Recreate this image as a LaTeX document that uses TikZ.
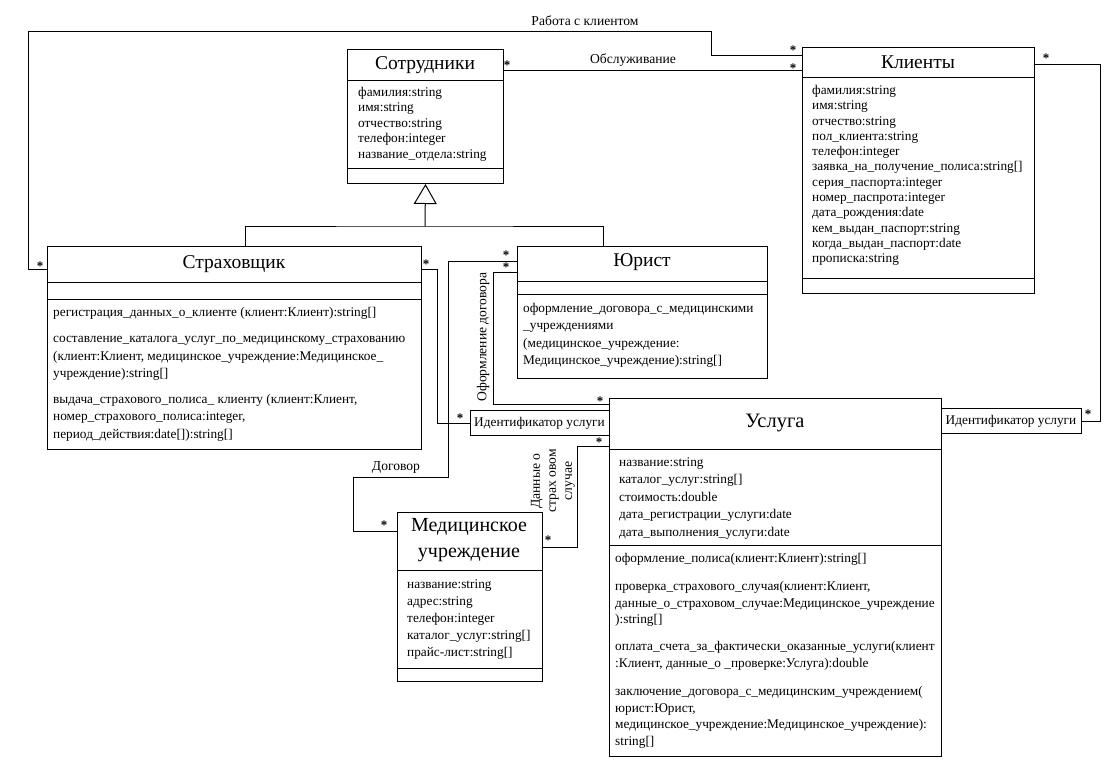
\documentclass[tikz,border=0pt]{standalone}
\usepackage{fontspec}
\setmainfont{Liberation Serif}
\usepackage{tikz}
\usetikzlibrary{arrows.meta, positioning}
\tikzset{
  %% -- class frame --
  uml/cls/.style={draw, line width=1pt, anchor=north west, inner sep=0pt},
  %% -- class name --
  uml/title/.style={font=\fontsize{19.5}{26}\selectfont, align=center, inner sep=0pt},
  %% -- attribute / operation list --
  uml/attr/.style={font=\fontsize{13.3}{15.5}\selectfont, align=left,
    anchor=north west, inner sep=0pt},
  %% -- association line --
  uml/assoc/.style={draw, line width=1pt},
  %% -- generalisation arrow --
  uml/gen/.style={draw, line width=1pt, -{Triangle[open, length=20pt, width=23pt]}},
  %% -- multiplicity star --
  uml/mult/.style={font=\fontsize{13}{13}\selectfont\bfseries, inner sep=0pt, yshift=-3pt},
  %% -- association label --
  uml/lbl/.style={font=\fontsize{13.6}{16}\selectfont, inner sep=0pt, align=center},
  %% -- qualifier box --
  uml/qual/.style={draw, line width=1pt, minimum height=25pt, inner sep=0pt,
    font=\fontsize{13.3}{14}\selectfont},
}

\begin{document}
\begin{tikzpicture}[x=1pt, y=-1pt]
\useasboundingbox (0,0) rectangle (1118,779);

%% Class frames
\node[uml/cls, minimum width=156pt, minimum height=134pt] (sotr)  at (347,49)  {};
\node[uml/cls, minimum width=232pt, minimum height=246pt] (kli)   at (802,47)  {};
\node[uml/cls, minimum width=374pt, minimum height=203pt] (strah) at (47,246)  {};
\node[uml/cls, minimum width=250pt, minimum height=132pt] (yur)   at (517,246) {};
\node[uml/cls, minimum width=332pt, minimum height=358pt] (usl)   at (609,398) {};
\node[uml/cls, minimum width=145pt, minimum height=169pt] (med)   at (397,512) {};

%% Compartment lines
\draw[uml/assoc] ([yshift=-31pt]sotr.north west) -- ([yshift=-31pt]sotr.north east);
\draw[uml/assoc] ([yshift=-119pt]sotr.north west) -- ([yshift=-119pt]sotr.north east);
\draw[uml/assoc] ([yshift=-30pt]kli.north west) -- ([yshift=-30pt]kli.north east);
\draw[uml/assoc] ([yshift=-231pt]kli.north west) -- ([yshift=-231pt]kli.north east);
\draw[uml/assoc] ([yshift=-36pt]strah.north west) -- ([yshift=-36pt]strah.north east);
\draw[uml/assoc] ([yshift=-53pt]strah.north west) -- ([yshift=-53pt]strah.north east);
\draw[uml/assoc] ([yshift=-35pt]yur.north west) -- ([yshift=-35pt]yur.north east);
\draw[uml/assoc] ([yshift=-48pt]yur.north west) -- ([yshift=-48pt]yur.north east);
\draw[uml/assoc] ([yshift=-51pt]usl.north west) -- ([yshift=-51pt]usl.north east);
\draw[uml/assoc] ([yshift=-147pt]usl.north west) -- ([yshift=-147pt]usl.north east);
\draw[uml/assoc] ([yshift=-58pt]med.north west) -- ([yshift=-58pt]med.north east);
\draw[uml/assoc] ([yshift=-156pt]med.north west) -- ([yshift=-156pt]med.north east);

%% Class names
\node[uml/title] (sotrT)  at (425,65)  {Сотрудники};
\node[uml/title] (kliT)   at (918,62)  {Клиенты};
\node[uml/title] (strahT) at (234,264) {Страховщик};
\node[uml/title] (yurT)   at (642,262) {Юрист};
\node[uml/title, font=\fontsize{20.5}{26}\selectfont] (uslT) at (775,423) {Услуга};
\node[uml/title, font=\fontsize{20}{26}\selectfont] (medT) at (469,540)
  {Медицинское\\учреждение};

%% Attributes and operations
\node[uml/attr] (sotrA) at (358,87)
  {фамилия:string\\имя:string\\отчество:string\\телефон:integer\\название\_отдела:string};
\node[uml/attr, font=\fontsize{13.3}{15.3}\selectfont] (kliA) at (812,85)
  {фамилия:string\\имя:string\\отчество:string\\пол\_клиента:string\\телефон:integer\\
   заявка\_на\_получение\_полиса:string[]\\серия\_паспорта:integer\\
   номер\_паспрота:integer\\дата\_рождения:date\\кем\_выдан\_паспорт:string\\
   когда\_выдан\_паспорт:date\\прописка:string};
\node[uml/attr, font=\fontsize{13.3}{17.5}\selectfont] (strahO) at (53,307)
  {регистрация\_данных\_о\_клиенте (клиент:Клиент):string[]\\[9pt]
   составление\_каталога\_услуг\_по\_медицинскому\_страхованию\\
   (клиент:Клиент, медицинское\_учреждение:Медицинское\_\\
   учреждение):string[]\\[8pt]
   выдача\_страхового\_полиса\_ клиенту (клиент:Клиент,\\
   номер\_страхового\_полиса:integer,\\
   период\_действия:date[]):string[]};
\node[uml/attr, font=\fontsize{13.3}{17.3}\selectfont] (yurO) at (523,303)
  {оформление\_договора\_с\_медицинскими\\\_учреждениями\\
   (медицинское\_учреждение:\\Медицинское\_учреждение):string[]};
\node[uml/attr, font=\fontsize{13.3}{17.5}\selectfont] (uslA) at (619,457)
  {название:string\\каталог\_услуг:string[]\\стоимость:double\\
   дата\_регистрации\_услуги:date\\дата\_выполнения\_услуги:date};
\node[uml/attr, font=\fontsize{13.3}{16.8}\selectfont] (uslO) at (615,553)
  {оформление\_полиса(клиент:Клиент):string[]\\[11pt]
   проверка\_страхового\_случая(клиент:Клиент,\\
   данные\_о\_страховом\_случае:Медицинское\_учреждение\\
   ):string[]\\[10pt]
   оплата\_счета\_за\_фактически\_оказанные\_услуги(клиент\\
   :Клиент, данные\_о \_проверке:Услуга):double\\[11pt]
   заключение\_договора\_с\_медицинским\_учреждением(\\
   юрист:Юрист,\\
   медицинское\_учреждение:Медицинское\_учреждение):\\
   string[]};
\node[uml/attr, font=\fontsize{13.3}{17}\selectfont] (medA) at (407,579)
  {название:string\\адрес:string\\телефон:integer\\каталог\_услуг:string[]\\
   прайс-лист:string[]};

%% Qualifiers on Услуга
\node[uml/qual, minimum width=139pt] (idL) at (539.5,423) {Идентификатор услуги};
\node[uml/qual, minimum width=140pt] (idR) at (1011,421) {Идентификатор услуги};

%% Generalisation
\coordinate (genJ) at (425,226);
\draw[uml/assoc] ([xshift=11pt]strah.north) |- (genJ) -| ([xshift=-39pt]yur.north);
\draw[uml/gen] (genJ) -- (sotr.south);

%% Associations
\draw[uml/assoc] ([yshift=-21pt]sotr.north east) -- ([yshift=-23pt]kli.north west);
\draw[uml/assoc] ([yshift=-23pt]strah.north west) -- ++(-19,0) -- ++(0,-238)
  -- ++(683,0) |- ([yshift=-8pt]kli.north west);
\draw[uml/assoc] ([yshift=-23pt]strah.north east) -- ++(15,0) |- (idL.west);
\draw[uml/assoc] ([yshift=-15pt]yur.north west) -- ++(-69,0) -- ++(0,216)
  -- ++(-95,0) |- ([yshift=-19pt]med.north west);
\draw[uml/assoc] ([yshift=-26pt]yur.north west) -- ++(-24,0)
  |- ([yshift=-6pt]usl.north west);
\draw[uml/assoc] ([yshift=-35pt]med.north east) -- ++(34,0)
  |- ([yshift=-48pt]usl.north west);
\draw[uml/assoc] (idR.east) -- ++(19,0) |- ([yshift=-17pt]kli.north east);

%% Association names
\node[uml/lbl] (lblServ) at (633,60)  {Обслуживание};
\node[uml/lbl] (lblWork) at (585,21)  {Работа с клиентом};
\node[uml/lbl] (lblDog)  at (396,467) {Договор};
\node[uml/lbl, rotate=90] (lblOform) at (483,337) {Оформление договора};
\node[uml/lbl, rotate=90] (lblData)  at (553,481) {Данные о\\страх овом\\случае};

%% Multiplicities
\node[uml/mult] (m1)  at (507,62)   {*};
\node[uml/mult] (m2)  at (793,65)   {*};
\node[uml/mult] (m3)  at (793,47)   {*};
\node[uml/mult] (m4)  at (40,263)   {*};
\node[uml/mult] (m5)  at (426,261)  {*};
\node[uml/mult] (m6)  at (460,415)  {*};
\node[uml/mult] (m7)  at (506,252)  {*};
\node[uml/mult] (m8)  at (506,264)  {*};
\node[uml/mult] (m9)  at (384,522)  {*};
\node[uml/mult] (m10) at (600,398)  {*};
\node[uml/mult] (m11) at (599,439)  {*};
\node[uml/mult] (m12) at (548,537)  {*};
\node[uml/mult] (m13) at (1046,55)  {*};
\node[uml/mult] (m14) at (1088,411) {*};
\end{tikzpicture}
\end{document}
